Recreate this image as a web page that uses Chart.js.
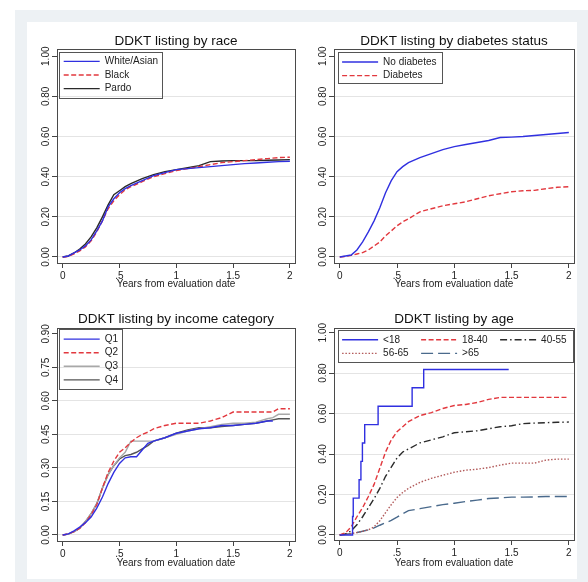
<!DOCTYPE html>
<html>
<head>
<meta charset="utf-8">
<script src="https://cdn.jsdelivr.net/npm/chart.js@4.4.1/dist/chart.umd.min.js"></script>
<style>
  body { margin: 0; width: 588px; height: 582px; position: relative; overflow: hidden; background: #fff; }
  #outer { position: absolute; left: 15px; top: 10px; width: 573px; height: 572px; background: #edf1f4; }
  #inner { position: absolute; left: 27px; top: 22px; width: 550px; height: 557px; background: #fff; }
  canvas { position: absolute; }
</style>
</head>
<body>
<div id="outer"></div>
<div id="inner"></div>
<canvas id="c1" width="273" height="270" style="left:27px;top:22px"></canvas>
<canvas id="c2" width="277" height="270" style="left:300px;top:22px"></canvas>
<canvas id="c3" width="273" height="272" style="left:27px;top:300px"></canvas>
<canvas id="c4" width="277" height="272" style="left:300px;top:300px"></canvas>
<script>
const FONT = '"Liberation Sans", Arial, sans-serif';

// time since evaluation (years)
const years = [0, .05, .1, .15, .2, .25, .3, .35, .4, .45, .5, .55, .6, .7, .8, .9, 1.0, 1.1, 1.2, 1.3, 1.4, 1.5, 1.6, 1.7, 1.8, 1.9, 2.0];
const yearsInc = [0, .05, .1, .15, .2, .25, .3, .35, .4, .45, .5, .55, .6, .65, .7, .75, .8, .9, 1.0, 1.1, 1.2, 1.3, 1.4, 1.5, 1.6, 1.7, 1.8, 1.85, 1.9, 2.0];

// race
const raceWhite = [0, .005, .02, .035, .055, .085, .13, .18, .25, .29, .32, .34, .355, .38, .405, .42, .435, .44, .445, .45, .455, .46, .465, .468, .472, .475, .477];
const raceBlack = [0, .003, .015, .03, .05, .08, .125, .18, .24, .28, .31, .335, .35, .375, .40, .415, .43, .44, .45, .46, .47, .475, .48, .485, .49, .495, .497];
const racePardo = [0, .005, .02, .04, .065, .10, .145, .20, .26, .31, .33, .35, .365, .39, .41, .425, .435, .445, .455, .475, .478, .48, .48, .48, .482, .483, .485];

// diabetes
const noDiabetes = [0, .005, .01, .035, .075, .125, .18, .245, .32, .38, .425, .45, .47, .495, .515, .535, .55, .56, .57, .58, .595, .597, .60, .605, .61, .615, .62];
const diabetes = [0, .003, .008, .015, .022, .035, .055, .075, .105, .13, .155, .175, .19, .225, .24, .255, .265, .275, .29, .305, .315, .325, .33, .332, .34, .347, .35];

// income quartiles
const incQ1 = [0, .005, .018, .035, .055, .08, .12, .17, .23, .28, .32, .345, .35, .35, .38, .41, .42, .435, .455, .465, .475, .48, .49, .49, .495, .50, .51, .51, null, null];
const incQ2 = [0, .005, .015, .03, .055, .09, .135, .21, .28, .33, .37, .39, .415, .435, .45, .46, .475, .49, .50, .50, .50, .51, .525, .55, .55, .55, .55, .55, .565, .565];
const incQ3 = [0, .004, .015, .03, .06, .095, .14, .21, .27, .31, .345, .37, .42, .42, .42, .42, .42, .435, .45, .465, .475, .485, .495, .50, .50, .505, .52, .525, .54, .54];
const incQ4 = [0, .004, .015, .03, .06, .095, .14, .21, .27, .31, .34, .355, .36, .37, .385, .40, .42, .435, .455, .47, .48, .48, .485, .49, .495, .50, .51, .515, .52, .52];

// age groups
const ageU18Years = [0, .112, .118, .169, .185, .198, .218, .335, .632, .733, 1.475];
const ageU18 = [0, .0909, .1818, .2727, .3636, .4545, .5455, .6364, .7273, .8182, .8182];
const age18to40 = [0, .01, .04, .09, .135, .19, .25, .33, .41, .47, .51, .535, .56, .59, .605, .625, .64, .645, .655, .67, .68, .68, .68, .68, .68, .68, .68];
const age40to55 = [0, .005, .02, .05, .09, .135, .18, .23, .29, .335, .38, .41, .425, .455, .47, .485, .505, .51, .515, .525, .535, .54, .55, .553, .555, .557, .558];
const age56to65 = [0, .003, .007, .012, .018, .025, .04, .07, .11, .15, .185, .21, .23, .26, .28, .295, .31, .32, .325, .333, .345, .355, .355, .355, .37, .375, .375];
const ageOver65 = [0, .003, .007, .012, .018, .025, .035, .048, .06, .072, .088, .105, .12, .13, .14, .15, .157, .165, .172, .18, .183, .187, .187, .188, .19, .19, .19];

// axes
const xTicks = [0, .5, 1, 1.5, 2];
const xTickLabels = ['0', '.5', '1', '1.5', '2'];
const yTicks100 = [0, .2, .4, .6, .8, 1];
const yTicks90 = [0, .15, .3, .45, .6, .75, .9];

const pts = (xs, ys) => xs.map((x, i) => ({ x: x, y: ys[i] })).filter(p => p.y !== null);

// Stata-like plot region outline + legend box placed inside the plot
const frame = {
  id: 'frame',
  afterLayout(chart, args, o) {
    const lg = chart.legend, ca = chart.chartArea, b = o.box;
    lg.update(ca.right - ca.left, o.maxH, { left: 0, top: 0, right: 0, bottom: 0 });
    if (o.colW) lg.columnSizes.forEach(c => { c.width = o.colW; });
    lg.left = ca.left + b[0] + 0.8;
    lg.top = ca.top + b[1] + 1.2;
    lg.right = lg.left + b[2];
    lg.bottom = lg.top + o.maxH;
  },
  afterDraw(chart, args, o) {
    const ctx = chart.ctx, ca = chart.chartArea, b = o.box;
    ctx.save();
    ctx.strokeStyle = '#4a4a4a';
    ctx.lineWidth = 1;
    const l = Math.round(ca.left) + 0.5, t = Math.round(ca.top) + 0.5;
    ctx.strokeRect(l, t, Math.round(ca.right) - Math.round(ca.left), Math.round(ca.bottom) - Math.round(ca.top));
    ctx.strokeStyle = '#555';
    ctx.strokeRect(Math.round(ca.left + b[0]) + 0.5, Math.round(ca.top + b[1]) + 0.5, Math.round(b[2]), Math.round(b[3]));
    ctx.restore();
  }
};

// legend keys: keep each dataset's dash pattern and width
function legendLabels(chart) {
  return Chart.defaults.plugins.legend.labels.generateLabels(chart).map(it => {
    const ds = chart.data.datasets[it.datasetIndex];
    it.lineDash = ds.borderDash;
    it.lineWidth = ds.borderWidth;
    it.strokeStyle = ds.borderColor;
    return it;
  });
}

function makeChart(id, o) {
  const topTick = o.yTicks[o.yTicks.length - 1];
  return new Chart(document.getElementById(id), {
    type: 'line',
    data: {
      datasets: o.series.map(s => ({
        label: s.label,
        data: pts(s.x, s.y),
        borderColor: s.color,
        backgroundColor: s.color,
        borderWidth: 1.4,
        borderDash: s.dash || [],
        stepped: s.stepped || false,
        pointRadius: 0,
        tension: 0,
        fill: false
      }))
    },
    options: {
      responsive: false,
      animation: false,
      devicePixelRatio: 1,
      events: [],
      layout: { padding: { left: 0, right: o.padR, top: 0, bottom: 0 } },
      scales: {
        x: {
          type: 'linear', min: -0.05, max: 2.045,
          afterBuildTicks: s => { s.ticks = xTicks.map(v => ({ value: v })); },
          afterFit: s => { s.height = o.xAxisH; },
          grid: { drawOnChartArea: false, tickLength: 5, tickColor: '#444' },
          border: { display: false },
          ticks: {
            padding: 2.5, color: '#222', autoSkip: false, maxRotation: 0,
            font: { family: FONT, size: 10 },
            callback: (v, i) => xTickLabels[i]
          },
          title: {
            display: true, text: 'Years from evaluation date', color: '#222',
            font: { family: FONT, size: 10 }, padding: { top: 0, bottom: o.xTitleB }
          }
        },
        y: {
          type: 'linear', min: o.yMin, max: o.yMax,
          afterBuildTicks: s => { s.ticks = o.yTicks.map(v => ({ value: v })); },
          afterFit: s => { s.width = o.yAxisW; },
          grid: {
            tickLength: 5, tickColor: '#444',
            color: c => (c.tick && c.tick.value === topTick) ? 'rgba(0,0,0,0)' : '#e4e4e4'
          },
          border: { display: false },
          ticks: {
            padding: -3.5, color: '#222', autoSkip: false,
            minRotation: 90, maxRotation: 90, crossAlign: 'center',
            font: { family: FONT, size: 10 },
            callback: v => v.toFixed(2)
          }
        }
      },
      plugins: {
        title: {
          display: true, text: o.title, color: '#111', fullSize: false,
          font: { family: FONT, size: 13.5, weight: 'normal' },
          padding: { top: 11, bottom: o.titleB }
        },
        legend: {
          position: 'chartArea', align: 'start',
          labels: {
            usePointStyle: true, pointStyle: 'line', pointStyleWidth: 36, boxHeight: 10,
            padding: 3.6, color: '#222', font: { family: FONT, size: 10 },
            generateLabels: legendLabels,
            sort: o.sort
          }
        },
        tooltip: { enabled: false },
        frame: { box: o.legendBox, maxH: o.maxH, colW: o.colW }
      }
    },
    plugins: [frame]
  });
}

const BLUE = '#3030e0', RED = '#e2383e';

makeChart('c1', {
  title: 'DDKT listing by race',
  yTicks: yTicks100, yMin: -0.03, yMax: 1.035,
  yAxisW: 30, padR: 5, xAxisH: 29, xTitleB: 1.5, titleB: 0,
  legendBox: [2.3, 2.4, 103, 45.6], maxH: 200,
  series: [
    { label: 'White/Asian', x: years, y: raceWhite, color: BLUE },
    { label: 'Black', x: years, y: raceBlack, color: RED, dash: [5, 2.5] },
    { label: 'Pardo', x: years, y: racePardo, color: '#2a2a2a' }
  ]
});

makeChart('c2', {
  title: 'DDKT listing by diabetes status',
  yTicks: yTicks100, yMin: -0.03, yMax: 1.035,
  yAxisW: 34, padR: 3, xAxisH: 29, xTitleB: 1.5, titleB: 0,
  legendBox: [3.7, 3, 104, 31], maxH: 200,
  series: [
    { label: 'No diabetes', x: years, y: noDiabetes, color: BLUE },
    { label: 'Diabetes', x: years, y: diabetes, color: RED, dash: [5, 2.5] }
  ]
});

makeChart('c3', {
  title: 'DDKT listing by income category',
  yTicks: yTicks90, yMin: -0.027, yMax: 0.926,
  yAxisW: 30, padR: 5, xAxisH: 31, xTitleB: 3, titleB: 0.8,
  legendBox: [2.3, 1.3, 63.4, 59.7], maxH: 200,
  series: [
    { label: 'Q1', x: yearsInc, y: incQ1, color: BLUE },
    { label: 'Q2', x: yearsInc, y: incQ2, color: RED, dash: [5, 2.5] },
    { label: 'Q3', x: yearsInc, y: incQ3, color: '#a8a8a8' },
    { label: 'Q4', x: yearsInc, y: incQ4, color: '#555555' }
  ]
});

const ageLegendRank = [0, 2, 4, 1, 3];
makeChart('c4', {
  title: 'DDKT listing by age',
  yTicks: yTicks100, yMin: -0.025, yMax: 1.023,
  yAxisW: 34, padR: 3, xAxisH: 32, xTitleB: 3, titleB: 0.8,
  legendBox: [3.7, 2, 235, 31.7], maxH: 38, colW: 75.4,
  sort: (a, b) => ageLegendRank[a.datasetIndex] - ageLegendRank[b.datasetIndex],
  series: [
    { label: '<18', x: ageU18Years, y: ageU18, color: BLUE, stepped: 'before' },
    { label: '18-40', x: years, y: age18to40, color: RED, dash: [5, 2.5] },
    { label: '40-55', x: years, y: age40to55, color: '#2a2a2a', dash: [7, 3, 1.5, 3] },
    { label: '56-65', x: years, y: age56to65, color: '#b25a5a', dash: [1.5, 1.8] },
    { label: '>65', x: years, y: ageOver65, color: '#4a6a8c', dash: [12, 5] }
  ]
});
</script>
</body>
</html>
